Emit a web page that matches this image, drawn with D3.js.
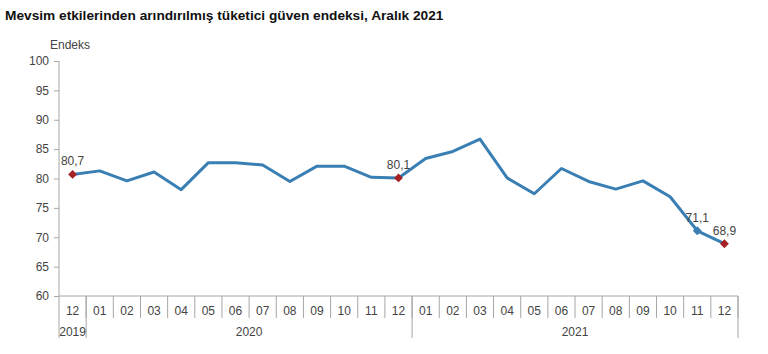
<!DOCTYPE html>
<html lang="tr">
<head>
  <meta charset="UTF-8">
  <title>Tüketici güven endeksi</title>
  <script src="https://d3js.org/d3.v7.min.js"></script>
  <style>
    html, body {
      margin: 0;
      padding: 0;
      background: #fff;
      font-family: 'Liberation Sans', Arial, sans-serif;
    }
    svg { display: block; }
    .tick text { font-size: 12px; fill: #444; }
  </style>
</head>
<body>
<svg width="768" height="354"></svg>
<script>
  const months = ["12","01","02","03","04","05","06","07","08","09","10","11","12",
                  "01","02","03","04","05","06","07","08","09","10","11","12"];
  const values = [80.7, 81.3, 79.6, 81.1, 78.1, 82.7, 82.7, 82.3, 79.5, 82.1, 82.1, 80.2, 80.1,
                  83.4, 84.6, 86.7, 80.1, 77.4, 81.7, 79.5, 78.2, 79.6, 76.9, 71.1, 68.9];
  const years = [{ label: "2019", from: 0, to: 0 },
                 { label: "2020", from: 1, to: 12 },
                 { label: "2021", from: 13, to: 24 }];
  // points that get a marker and a label: index -> colour
  const marked = [{ i: 0, color: "#a52126" }, { i: 12, color: "#a52126" },
                  { i: 23, color: "#3a7fb4" }, { i: 24, color: "#a52126" }];
  const yTicks = [60, 65, 70, 75, 80, 85, 90, 95, 100];

  const svg = d3.select("svg");
  const plotLeft = 59, plotRight = 738, plotTop = 61, plotBottom = 296;

  const x = d3.scaleBand().domain(d3.range(months.length)).range([plotLeft, plotRight]);
  const y = d3.scaleLinear().domain([60, 100]).range([plotBottom, plotTop]);
  const axisColor = "#a6a6a6";

  svg.append("text")
    .attr("x", 5).attr("y", 20)
    .attr("font-size", 13.7).attr("font-weight", "bold").attr("fill", "#111")
    .text("Mevsim etkilerinden arındırılmış tüketici güven endeksi, Aralık 2021");

  svg.append("text")
    .attr("x", 50).attr("y", 49)
    .attr("font-size", 12).attr("fill", "#444")
    .text("Endeks");

  // y axis
  const yAxis = svg.append("g")
    .attr("transform", `translate(${plotLeft},0)`)
    .call(d3.axisLeft(y).tickValues(yTicks).tickSize(5).tickPadding(5).tickSizeOuter(0));
  yAxis.select(".domain").remove();
  yAxis.selectAll(".tick line").attr("stroke", axisColor);

  svg.append("line")
    .attr("x1", plotLeft).attr("x2", plotLeft).attr("y1", plotTop).attr("y2", 338)
    .attr("stroke", axisColor);
  svg.append("line")
    .attr("x1", plotLeft).attr("x2", plotRight).attr("y1", plotBottom).attr("y2", plotBottom)
    .attr("stroke", axisColor);

  // month separators and labels
  svg.append("g").selectAll("line")
    .data(d3.range(1, months.length + 1))
    .join("line")
    .attr("x1", d => x(d - 1) + x.bandwidth()).attr("x2", d => x(d - 1) + x.bandwidth())
    .attr("y1", plotBottom).attr("y2", 318)
    .attr("stroke", axisColor);

  svg.append("g").selectAll("text")
    .data(months)
    .join("text")
    .attr("x", (d, i) => x(i) + x.bandwidth() / 2)
    .attr("y", 315)
    .attr("text-anchor", "middle")
    .attr("font-size", 12).attr("fill", "#444")
    .text(d => d);

  // year groups
  years.forEach(yr => {
    const x0 = x(yr.from), x1 = x(yr.to) + x.bandwidth();
    svg.append("line").attr("x1", x1).attr("x2", x1).attr("y1", plotBottom).attr("y2", 338)
      .attr("stroke", axisColor);
    svg.append("text")
      .attr("x", (x0 + x1) / 2).attr("y", 336)
      .attr("text-anchor", "middle")
      .attr("font-size", 12).attr("fill", "#444")
      .text(yr.label);
  });

  // line
  const line = d3.line()
    .x((d, i) => x(i) + x.bandwidth() / 2)
    .y(d => y(d));
  svg.append("path")
    .datum(values)
    .attr("d", line)
    .attr("fill", "none")
    .attr("stroke", "#3a7fb4")
    .attr("stroke-width", 3)
    .attr("stroke-linejoin", "round");

  // markers + labels
  const m = svg.append("g").selectAll("g")
    .data(marked)
    .join("g")
    .attr("transform", d => `translate(${x(d.i) + x.bandwidth() / 2},${y(values[d.i])})`);
  m.append("path")
    .attr("d", d3.symbol(d3.symbolDiamond2, 50))
    .attr("fill", d => d.color);
  m.append("text")
    .attr("y", -9)
    .attr("text-anchor", "middle")
    .attr("font-size", 12).attr("fill", "#444")
    .text(d => values[d.i].toFixed(1).replace(".", ","));
</script>
</body>
</html>
